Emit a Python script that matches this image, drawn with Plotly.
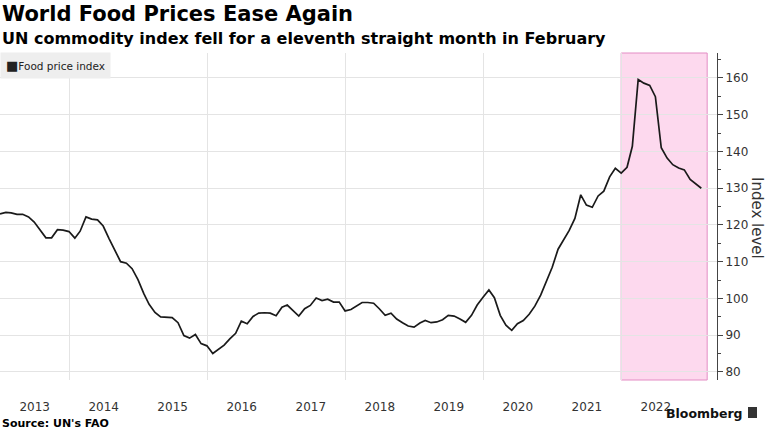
import pandas as pd
import plotly.graph_objects as go

# FAO food price index, monthly, Dec 2012 - Feb 2023
first_month = "2012-12"
last_month = "2023-02"
food_index = [
    123.0,
    123.4, 123.3, 122.9, 122.9, 122.2, 120.8, 118.6, 116.5, 116.5, 118.7, 118.6, 118.2,  # 2013
    116.4, 118.3, 122.2, 121.6, 121.4, 119.7, 116.3, 113.2, 110.0, 109.6, 108.1, 105.1,  # 2014
    101.3, 98.4, 96.2, 95.0, 94.9, 94.8, 93.4, 89.9, 89.2, 90.2, 87.7, 87.1,  # 2015
    85.0, 86.0, 87.3, 89.0, 90.5, 93.8, 93.1, 95.1, 96.0, 96.1, 96.0, 95.3,  # 2016
    97.6, 98.2, 96.7, 95.2, 97.2, 98.1, 100.1, 99.4, 99.8, 99.0, 99.0, 96.6,  # 2017
    97.0, 98.0, 98.9, 98.9, 98.7, 97.2, 95.4, 96.0, 94.4, 93.4, 92.5, 92.2,  # 2018
    93.3, 94.0, 93.4, 93.6, 94.2, 95.4, 95.2, 94.4, 93.5, 95.4, 98.2, 100.3,  # 2019
    102.3, 100.2, 95.4, 92.7, 91.3, 93.1, 94.0, 95.7, 97.9, 100.9, 104.4, 108.5,  # 2020
    113.4, 116.0, 118.5, 121.8, 128.2, 125.4, 124.8, 127.9, 129.2, 133.1, 135.4, 134.1,  # 2021
    135.7, 141.4, 159.6, 158.6, 158.0, 154.9, 141.0, 138.2, 136.4, 135.5, 135.0, 132.4,  # 2022
    131.0, 130.0,  # 2023
]
series_name = "Food price index"

# shaded period
shade_start = "2021-12-31"
shade_end = "2023-03-31"

# axis settings
x_range = ["2012-12-31", "2023-05-22"]
y_range = [77.8, 166.8]
y_ticks = [80, 90, 100, 110, 120, 130, 140, 150, 160]

title = "World Food Prices Ease Again"
subtitle = "UN commodity index fell for a eleventh straight month in February"
source = "Source: UN's FAO"

months = pd.period_range(first_month, last_month, freq="M").to_timestamp(how="end").normalize()

fig = go.Figure()
fig.add_trace(go.Scatter(x=months, y=food_index, mode="lines", name=series_name,
                         line=dict(color="#1a1a1a", width=1.7), showlegend=False,
                         hoverinfo="x+y"))
# invisible trace that carries the 2-year vertical grid
fig.add_trace(go.Scatter(x=[months[0]], y=[None], xaxis="x2", showlegend=False,
                         hoverinfo="skip", mode="lines"))

fig.add_shape(type="rect", xref="x", yref="paper", x0=shade_start, x1=shade_end, y0=0, y1=1,
              fillcolor="#fdd9ee", line=dict(color="#e38cc4", width=1), layer="below")

font = "DejaVu Sans"
ann = [
    dict(text="<b>%s</b>" % title, x=0, y=1.120, font=dict(size=21, color="#000")),
    dict(text="<b>%s</b>" % subtitle, x=0, y=1.043, font=dict(size=16, color="#000")),
    dict(text="<span style='font-size:13px'>■</span>" + series_name, x=0.0, y=0.962,
         font=dict(size=10.5, color="#222"), bgcolor="#eeeeee", borderpad=5),
    dict(text="<b>%s</b>" % source, x=0, y=-0.1315, font=dict(size=11, color="#000")),
]
for a in ann:
    a.update(xref="paper", yref="paper", xanchor="left", yanchor="middle",
             showarrow=False, font_family=font)
    fig.add_annotation(**a)

fig.add_annotation(text="<b>Bloomberg</b>", xref="paper", yref="paper", x=1.039, y=-0.101,
                   xanchor="right", yanchor="middle", showarrow=False,
                   font=dict(family=font, size=12.5, color="#111"))
fig.add_annotation(text="Index level", xref="paper", yref="paper", x=1.056, y=0.495,
                   textangle=90, showarrow=False, xanchor="center", yanchor="middle",
                   font=dict(family=font, size=15, color="#333"))
fig.add_shape(type="rect", xref="paper", yref="paper", x0=1.0432, x1=1.0558,
              y0=-0.1162, y1=-0.0826, fillcolor="#333", line=dict(width=0))

fig.update_layout(
    width=768, height=432,
    margin=dict(l=0, r=51, t=53, b=52),
    paper_bgcolor="white", plot_bgcolor="white",
    font=dict(family=font, size=12, color="#333"),
    xaxis=dict(range=x_range, type="date", dtick="M12", tick0="2013-01-01",
               tickformat="%Y", ticklabelmode="period", showgrid=False,
               zeroline=False, showline=False, ticks="", ticklabelstandoff=18,
               tickfont=dict(size=12, color="#333")),
    xaxis2=dict(range=x_range, type="date", overlaying="x", dtick="M24",
                tick0="2014-01-01", showgrid=True, gridcolor="#e4e4e4", gridwidth=1,
                showticklabels=False, ticks="", zeroline=False, showline=False),
    yaxis=dict(range=y_range, side="right", tickvals=y_ticks, showgrid=True,
               gridcolor="#e4e4e4", gridwidth=1, zeroline=False,
               showline=True, linecolor="#444", linewidth=1,
               ticks="outside", ticklen=5, tickcolor="#444",
               minor=dict(dtick=5, ticks="outside", ticklen=3, tickcolor="#444", showgrid=False),
               tickfont=dict(size=12, color="#333")),
)

# the page body has a default 8px margin; drop it so the figure sits at the corner
fig.write_html("out.html", config={"displayModeBar": False},
               post_script="document.body.style.margin='0px';")
